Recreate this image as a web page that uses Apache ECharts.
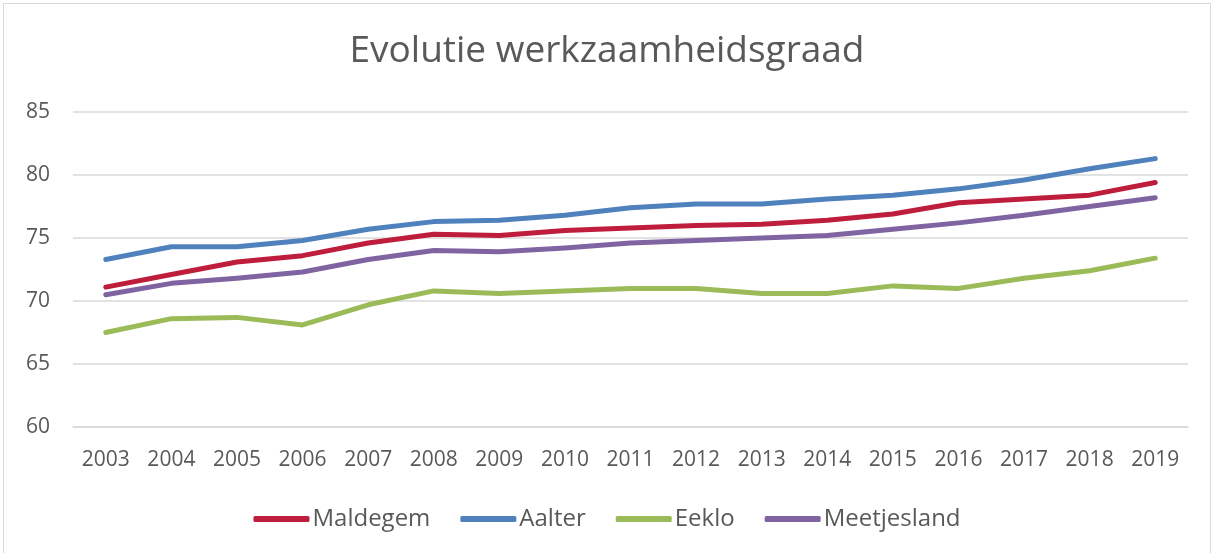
<!DOCTYPE html>
<html>
<head>
<meta charset="utf-8">
<script src="https://cdn.jsdelivr.net/npm/echarts@6/dist/echarts.min.js"></script>
<style>
  html, body { margin: 0; padding: 0; background: #fff; }
  #frame { position: absolute; left: 3px; top: 3px; width: 1206px; height: 560px; border: 1px solid #d9d9d9; }
  #chart { position: absolute; left: 0; top: 0; width: 1214px; height: 553px; }
</style>
</head>
<body>
<div id="frame"></div>
<div id="chart"></div>
<script>
// jaren en reeksen
var years = ['2003', '2004', '2005', '2006', '2007', '2008', '2009', '2010', '2011',
             '2012', '2013', '2014', '2015', '2016', '2017', '2018', '2019'];
var maldegem = [71.1, 72.1, 73.1, 73.6, 74.6, 75.3, 75.2, 75.6, 75.8, 76.0, 76.1, 76.4, 76.9, 77.8, 78.1, 78.4, 79.4];
var aalter = [73.3, 74.3, 74.3, 74.8, 75.7, 76.3, 76.4, 76.8, 77.4, 77.7, 77.7, 78.1, 78.4, 78.9, 79.6, 80.5, 81.3];
var eeklo = [67.5, 68.6, 68.7, 68.1, 69.7, 70.8, 70.6, 70.8, 71.0, 71.0, 70.6, 70.6, 71.2, 71.0, 71.8, 72.4, 73.4];
var meetjesland = [70.5, 71.4, 71.8, 72.3, 73.3, 74.0, 73.9, 74.2, 74.6, 74.8, 75.0, 75.2, 75.7, 76.2, 76.8, 77.5, 78.2];

var textColor = '#595959';
var fontFam = '"Open Sans", sans-serif';

let myChart = echarts.init(document.getElementById('chart'));

function lineSeries(name, data, color) {
    return {
        name: name,
        type: 'line',
        data: data,
        symbol: 'none',
        lineStyle: { color: color, width: 5, cap: 'round', join: 'round' },
        itemStyle: { color: color },
        animation: false
    };
}

let option = {
    title: {
        text: 'Evolutie werkzaamheidsgraad',
        left: 'center',
        top: 28,
        textStyle: { color: textColor, fontSize: 37, fontWeight: 'normal', fontFamily: fontFam }
    },
    legend: {
        bottom: 17,
        left: 'center',
        itemWidth: 56,
        itemHeight: 6,
        itemGap: 30,
        icon: 'roundRect',
        textStyle: { color: textColor, fontSize: 24, fontFamily: fontFam, padding: [0, 0, 0, -2] },
        data: ['Maldegem', 'Aalter', 'Eeklo', 'Meetjesland']
    },
    grid: { left: 73, right: 26, top: 112, bottom: 126, containLabel: false },
    xAxis: {
        type: 'category',
        data: years,
        boundaryGap: true,
        axisLine: { lineStyle: { color: '#d9d9d9', width: 1.5 } },
        axisTick: { show: false },
        axisLabel: { color: textColor, fontSize: 21, fontFamily: fontFam, margin: 23 }
    },
    yAxis: {
        type: 'value',
        min: 60,
        max: 85,
        interval: 5,
        axisLine: { show: false },
        axisTick: { show: false },
        splitLine: { lineStyle: { color: '#d9d9d9', width: 1.5 } },
        axisLabel: { color: textColor, fontSize: 21, fontFamily: fontFam, margin: 23 }
    },
    series: [
        lineSeries('Maldegem', maldegem, '#be1e3c'),
        lineSeries('Aalter', aalter, '#4f81bd'),
        lineSeries('Eeklo', eeklo, '#9bbb59'),
        lineSeries('Meetjesland', meetjesland, '#8064a2')
    ]
};
myChart.setOption(option);
</script>
</body>
</html>
